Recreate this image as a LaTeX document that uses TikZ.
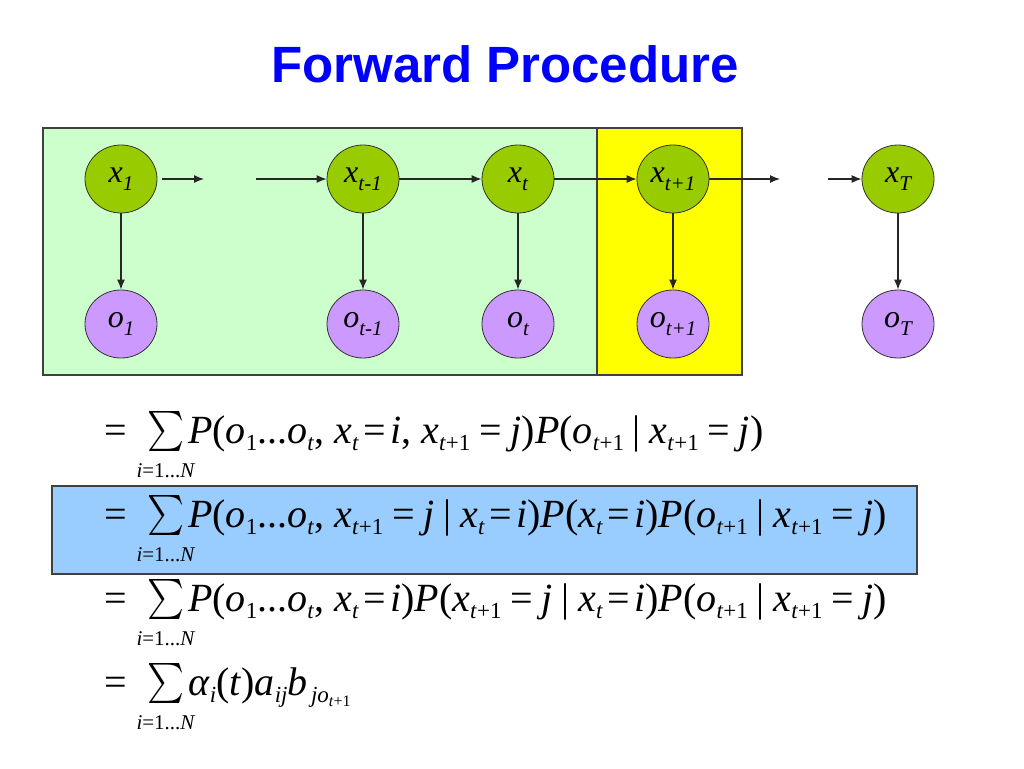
\documentclass[tikz,border=0pt]{standalone}
\usepackage{fontspec}
\setmainfont{Liberation Serif}
\newfontfamily\arialf{Liberation Sans}
\usepackage{graphicx}
\usetikzlibrary{arrows.meta,shapes.geometric}
\definecolor{nodegreen}{HTML}{99CC00}
\definecolor{nodepurple}{HTML}{CC99FF}
\definecolor{bggreen}{HTML}{CCFFCC}
\definecolor{bgyellow}{HTML}{FFFF00}
\definecolor{bgblue}{HTML}{99CCFF}
\definecolor{titleblue}{HTML}{0000FF}
\newcommand\fsz[1]{\fontsize{#1}{#1}\selectfont}
\newcommand\iv[1]{\textit{#1}}
% node label subscripts
\newcommand\nsb[1]{\raisebox{-8pt}{\fsz{21}\itshape #1}}
% formula subscripts
\newcommand\sbf[1]{\raisebox{-7pt}{\fsz{23}#1}}
\newcommand\ssbf[1]{\raisebox{-4pt}{\fsz{16}#1}}
\newcommand\eqf{\hspace{0.22em}=\hspace{0.22em}}
\newcommand\eqn{\hspace{0.12em}=}
\newcommand\gv{\hspace{0.22em}|\hspace{0.22em}}
\newcommand\sumsym{\resizebox*{37pt}{40pt}{$\sum$}}
\newcommand\lims{{\fsz{21}\iv{i}=1...\iv{N}}}
\tikzset{
  xnode/.style={ellipse,draw=black!80,line width=0.8pt,fill=nodegreen,minimum width=72pt,minimum height=68pt,inner sep=0pt,font=\fsz{32}\itshape},
  onode/.style={ellipse,draw=black!80,line width=0.8pt,fill=nodepurple,minimum width=72pt,minimum height=68pt,inner sep=0pt,font=\fsz{32}\itshape},
  conn/.style={line width=1.2pt,draw=black!85,-{Latex[length=10pt,width=8pt]}},
  frm/.style={anchor=base west,inner sep=0pt,font=\fsz{40}},
  eqsign/.style={anchor=base west,inner sep=0pt,font=\fsz{40}},
  sumn/.style={inner sep=0pt},
  limn/.style={anchor=base,inner sep=0pt},
  panel/.style={line width=1.3pt,draw=black!75}
}
\begin{document}
\begin{tikzpicture}[x=1pt,y=-1pt]
\useasboundingbox (0,0) rectangle (1024,768);
\fill[white] (0,0) rectangle (1024,768);
% title
\node[anchor=base,inner sep=0pt,text=titleblue,font=\arialf\bfseries\fsz{51}] (title) at (505,82) {Forward Procedure};
% panels
\draw[panel,fill=bggreen] (43,128) rectangle (597,375);
\draw[panel,fill=bgyellow] (597,128) rectangle (742,375);
% nodes
\node[xnode] (x1) at (121,179) {x\nsb{1}};
\node[xnode] (xtm) at (363,179) {x\nsb{t-1}};
\node[xnode] (xt) at (518,179) {x\nsb{t}};
\node[xnode] (xtp) at (673,179) {x\nsb{t+1}};
\node[xnode] (xT) at (898,179) {x\nsb{T}};
\node[onode] (o1) at (121,324) {o\nsb{1}};
\node[onode] (otm) at (363,324) {o\nsb{t-1}};
\node[onode] (ot) at (518,324) {o\nsb{t}};
\node[onode] (otp) at (673,324) {o\nsb{t+1}};
\node[onode] (oT) at (898,324) {o\nsb{T}};
\coordinate (f1s) at (162,179);
\coordinate (f1e) at (204,179);
\coordinate (f2s) at (256,179);
\coordinate (f3e) at (780,179);
\coordinate (f4s) at (828,179);
% connectors
\draw[conn] (f1s) -- (f1e);
\draw[conn] (f2s) -- (xtm);
\draw[conn] (xtm) -- (xt);
\draw[conn] (xt) -- (xtp);
\draw[conn] (xtp.east) -- (f3e);
\draw[conn] (f4s) -- (xT);
\foreach \a/\b in {x1/o1,xtm/otm,xt/ot,xtp/otp,xT/oT}{\draw[conn] (\a) -- (\b);}
% blue box
\draw[panel,fill=bgblue] (52,486) rectangle (917,574);
% formula lines
\foreach \k/\yb in {1/443,2/527,3/611,4/695}{
  \node[eqsign] (eq\k) at (104,\yb) {=};
  \node[sumn] (sum\k) at (166,\yb-12) {\sumsym};
  \node[limn] (lim\k) at (166,\yb+34) {\lims};
}
\node[frm] (l1) at (188,443) {\iv{P}(\iv{o}\sbf{1}...\iv{o}\sbf{\iv{t}}, \iv{x}\sbf{\iv{t}}\eqn\hspace{0.1em}\iv{i}, \iv{x}\sbf{\iv{t}+1}\eqf\iv{j})\iv{P}(\iv{o}\sbf{\iv{t}+1}\gv\iv{x}\sbf{\iv{t}+1}\eqf\iv{j})};
\node[frm] (l2) at (188,527) {\iv{P}(\iv{o}\sbf{1}...\iv{o}\sbf{\iv{t}}, \iv{x}\sbf{\iv{t}+1}\eqf\iv{j}\gv\iv{x}\sbf{\iv{t}}\eqn\hspace{0.1em}\iv{i})\iv{P}(\iv{x}\sbf{\iv{t}}\eqn\hspace{0.1em}\iv{i})\iv{P}(\iv{o}\sbf{\iv{t}+1}\gv\iv{x}\sbf{\iv{t}+1}\eqf\iv{j})};
\node[frm] (l3) at (188,611) {\iv{P}(\iv{o}\sbf{1}...\iv{o}\sbf{\iv{t}}, \iv{x}\sbf{\iv{t}}\eqn\hspace{0.1em}\iv{i})\iv{P}(\iv{x}\sbf{\iv{t}+1}\eqf\iv{j}\gv\iv{x}\sbf{\iv{t}}\eqn\hspace{0.1em}\iv{i})\iv{P}(\iv{o}\sbf{\iv{t}+1}\gv\iv{x}\sbf{\iv{t}+1}\eqf\iv{j})};
\node[frm] (l4) at (188,695) {\iv{α}\sbf{\iv{i}}(\iv{t})\iv{a}\sbf{\iv{ij}}\iv{b}\sbf{\hspace{0.15em}\iv{jo}\ssbf{\iv{t}+1}}};
\end{tikzpicture}
\end{document}
